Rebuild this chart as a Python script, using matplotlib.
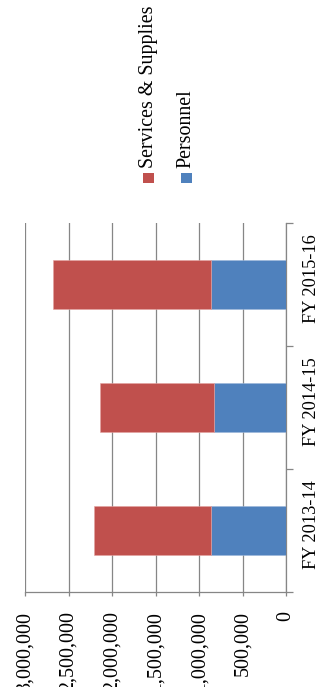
import matplotlib
matplotlib.use("Agg")
from matplotlib import pyplot as plt
from matplotlib.patches import Rectangle
from matplotlib.ticker import FuncFormatter

# budget by fiscal year, stacked: personnel first, then services & supplies
years = ['FY 2013-14', 'FY 2014-15', 'FY 2015-16']
personnel = [858000, 824000, 858000]
services = [1345000, 1317000, 1817000]

red = '#C0504D'
blue = '#4F81BD'
grey = '#868686'

plt.rcParams['font.family'] = ['Liberation Serif', 'DejaVu Serif']
plt.rcParams['font.size'] = 14.4

W, H = 328, 687
fig = plt.figure(figsize=(W / 100, H / 100), dpi=100)
ax = fig.add_axes([25 / W, (H - 592) / H, (286 - 25) / W, (592 - 223) / H])

pos = list(range(len(years)))
ax.barh(pos, personnel, height=0.4, color=blue, edgecolor='#9DB7DA', linewidth=0.4, zorder=3)
ax.barh(pos, services, left=personnel, height=0.4, color=red, edgecolor='#E3A3A1', linewidth=0.4, zorder=3)

# value axis runs right-to-left, chart reads rotated
ax.set_xlim(3000000, 0)
ax.set_ylim(-0.5, 2.5)
ax.set_xticks(range(0, 3000001, 500000))
ax.xaxis.set_major_formatter(FuncFormatter(lambda v, p: '{:,.0f}'.format(v)))
plt.setp(ax.get_xticklabels(), rotation=90, va='top', ha='center')
ax.tick_params(axis='x', length=3, width=0.9, color=grey, pad=11)
ax.grid(axis='x', color=grey, linewidth=0.9, zorder=0)

# category axis on the right, boundary ticks + labels (nudged up a little)
ax.yaxis.set_ticks_position('right')
ax.set_yticks([-0.5, 0.5, 1.5, 2.5])
ax.set_yticklabels([])
ax.set_yticks([p + 0.045 for p in pos], minor=True)
ax.set_yticklabels(years, minor=True, rotation=90, va='center', ha='left', fontsize=13.2)
ax.tick_params(axis='y', which='major', length=5, width=0.9, color=grey)
ax.tick_params(axis='y', which='minor', length=0, pad=12)

for s in ['top', 'left']:
    ax.spines[s].set_visible(False)
for s in ['right', 'bottom']:
    ax.spines[s].set_color(grey)
    ax.spines[s].set_linewidth(0.9)

# legend drawn by hand so its text can be turned like the rest
def px(x, y):
    return x / W, (H - y) / H

for cx, col, label in [(148.5, red, 'Services & Supplies'), (186, blue, 'Personnel')]:
    x0, y0 = px(cx - 5.5, 183)
    fig.add_artist(Rectangle((x0, y0), 11 / W, 10 / H, transform=fig.transFigure,
                             facecolor=col, edgecolor='none'))
    tx, ty = px(cx, 168)
    fig.text(tx, ty, label, rotation=90, ha='center', va='bottom')

fig.savefig('out.png', dpi=100)
